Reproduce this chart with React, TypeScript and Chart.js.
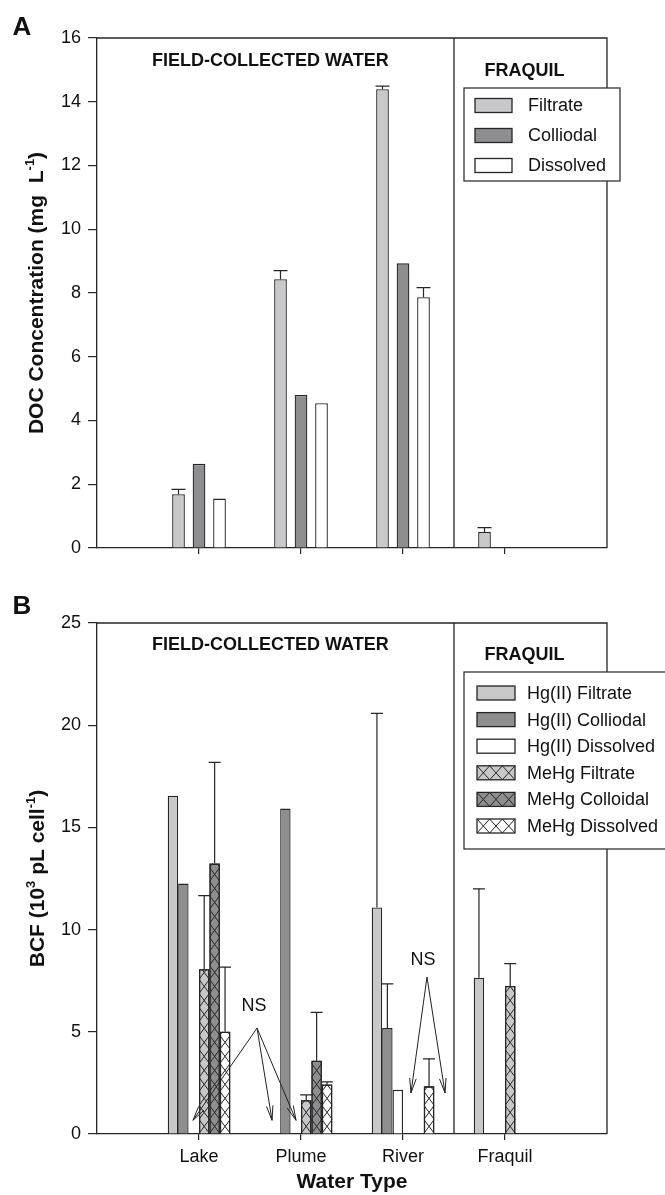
import React, { useEffect, useRef } from 'react';
import { Chart, registerables } from 'chart.js';

Chart.register(...registerables);

// ---------- shared categories ----------
const categories = ['', 'Lake', 'Plume', 'River', 'Fraquil', ''];
const dividerAt = 3.5;
const regionLabels = ['FIELD-COLLECTED WATER', 'FRAQUIL'];
const regionLabelX = [1.7, 4.19];

// ---------- panel A: DOC concentration (mg L-1) ----------
const yTicksA = [0, 2, 4, 6, 8, 10, 12, 14, 16];
const legendA = ['Filtrate', 'Colliodal', 'Dissolved'];
const docFiltrate = [null, 1.69, 8.43, 14.39, 0.5, null];
const docColloidal = [null, 2.64, 4.8, 8.93, null, null];
const docDissolved = [null, 1.55, 4.54, 7.87, null, null];
const docFiltrateErr = [null, 0.15, 0.27, 0.1, 0.14, null];
const docColloidalErr = [null, null, null, null, null, null];
const docDissolvedErr = [null, null, null, 0.3, null, null];

// ---------- panel B: BCF (10^3 pL cell-1) ----------
const yTicksB = [0, 5, 10, 15, 20, 25];
const legendB = ['Hg(II) Filtrate', 'Hg(II) Colliodal', 'Hg(II) Dissolved', 'MeHg Filtrate', 'MeHg Colloidal', 'MeHg Dissolved'];
const hgFiltrate = [null, 16.55, null, 11.08, 7.65, null];
const hgColloidal = [null, 12.25, 15.92, 5.18, null, null];
const hgDissolved = [null, null, null, 2.16, null, null];
const mehgFiltrate = [null, 8.06, 1.65, null, 7.24, null];
const mehgColloidal = [null, 13.23, 3.58, null, null, null];
const mehgDissolved = [null, 5.0, 2.42, 2.33, null, null];
const hgFiltrateErr = [null, null, null, 9.5, 4.34, null];
const hgColloidalErr = [null, null, null, 2.16, null, null];
const hgDissolvedErr = [null, null, null, null, null, null];
const mehgFiltrateErr = [null, 3.6, 0.26, null, 1.1, null];
const mehgColloidalErr = [null, 4.95, 2.37, null, null, null];
const mehgDissolvedErr = [null, 3.16, 0.13, 1.35, null, null];

// NS annotations (category index units, value units)
const nsLabels = ['NS', 'NS'];
const nsText = [[1.539, 6.27], [3.196, 8.53]];
const nsOrigin = [[1.569, 5.18], [3.235, 7.68]];
const nsTargets = [
  [[0.941, 0.67], [1.716, 0.67], [1.951, 0.67]],
  [[3.078, 2.01], [3.412, 2.01]],
];

const FONT = '"Liberation Sans", Arial, Helvetica, sans-serif';
const INK = '#262626';
const LIGHT = '#c8c8ca';
const DARK = '#8e8e91';
const WHITE = '#ffffff';

type Part = { t: string; sup?: boolean };

function hatchV(ctx: CanvasRenderingContext2D, l: number, r: number, t: number, b: number, p: number) {
  ctx.save();
  ctx.beginPath();
  ctx.rect(l, t, r - l, b - t);
  ctx.clip();
  ctx.beginPath();
  for (let yb = b; yb > t - p; yb -= p) {
    ctx.moveTo(l, yb);
    ctx.lineTo(r, yb - p);
    ctx.moveTo(r, yb);
    ctx.lineTo(l, yb - p);
  }
  ctx.strokeStyle = INK;
  ctx.lineWidth = 1;
  ctx.stroke();
  ctx.restore();
}

function hatchH(ctx: CanvasRenderingContext2D, l: number, r: number, t: number, b: number, n: number) {
  const cw = (r - l) / n;
  ctx.save();
  ctx.beginPath();
  ctx.rect(l, t, r - l, b - t);
  ctx.clip();
  ctx.beginPath();
  for (let k = 0; k < n; k++) {
    const x0 = l + k * cw;
    ctx.moveTo(x0, t);
    ctx.lineTo(x0 + cw, b);
    ctx.moveTo(x0 + cw, t);
    ctx.lineTo(x0, b);
  }
  ctx.strokeStyle = INK;
  ctx.lineWidth = 1;
  ctx.stroke();
  ctx.restore();
}

function drawRich(ctx: CanvasRenderingContext2D, parts: Part[], cx: number, cy: number, size: number, rotate: boolean) {
  ctx.save();
  ctx.translate(cx, cy);
  if (rotate) ctx.rotate(-Math.PI / 2);
  const big = `bold ${size}px ${FONT}`;
  const small = `bold ${Math.round(size * 0.62)}px ${FONT}`;
  let total = 0;
  const widths = parts.map((p) => {
    ctx.font = p.sup ? small : big;
    const w = ctx.measureText(p.t).width;
    total += w;
    return w;
  });
  let x = -total / 2;
  ctx.fillStyle = '#111';
  ctx.textBaseline = 'alphabetic';
  ctx.textAlign = 'left';
  const base = size * 0.36;
  parts.forEach((p, i) => {
    ctx.font = p.sup ? small : big;
    ctx.fillText(p.t, x, p.sup ? base - size * 0.42 : base);
    x += widths[i];
  });
  ctx.restore();
}

function arrow(ctx: CanvasRenderingContext2D, x0: number, y0: number, x1: number, y1: number) {
  ctx.beginPath();
  ctx.moveTo(x0, y0);
  ctx.lineTo(x1, y1);
  const a = Math.atan2(y1 - y0, x1 - x0);
  const len = 15;
  const sp = 0.22;
  ctx.moveTo(x1, y1);
  ctx.lineTo(x1 - len * Math.cos(a - sp), y1 - len * Math.sin(a - sp));
  ctx.moveTo(x1, y1);
  ctx.lineTo(x1 - len * Math.cos(a + sp), y1 - len * Math.sin(a + sp));
  ctx.stroke();
}

type DS = { label: string; data: (number | null)[]; err: (number | null)[]; color: string; hatch: boolean };
type Panel = {
  width: number;
  height: number;
  padTop: number;
  xAxisH: number;
  yMin: number;
  yMax: number;
  yTicks: number[];
  showX: boolean;
  datasets: DS[];
  cp: number;
  bp: number;
  capW: number;
  legend: { left: number; right: number; top: number; bottom: number; firstY: number; step: number; swX: number; swW: number; swH: number; textX: number };
  yTitle: Part[];
  yTitleX: number;
  letter: string;
  letterY: number;
  fieldDy: number;
  fraqDy: number;
  ns: boolean;
  xTitle?: string;
  xTitleY?: number;
};

function makeChart(canvas: HTMLCanvasElement, cfg: Panel) {
  const decor = {
    id: 'decor',
    beforeDraw(chart: any) {
      const ctx = chart.ctx;
      ctx.save();
      ctx.fillStyle = '#fff';
      ctx.fillRect(0, 0, chart.width, chart.height);
      ctx.restore();
    },
    afterDatasetsDraw(chart: any) {
      const ctx: CanvasRenderingContext2D = chart.ctx;
      const xs = chart.scales.x;
      const ys = chart.scales.y;
      const area = chart.chartArea;
      ctx.save();
      // hatch + error bars
      cfg.datasets.forEach((d, di) => {
        const meta = chart.getDatasetMeta(di);
        meta.data.forEach((el: any, i: number) => {
          const v = d.data[i];
          if (v == null) return;
          const p = el.getProps(['x', 'y', 'base', 'width'], true);
          const l = p.x - p.width / 2;
          const r = p.x + p.width / 2;
          if (d.hatch) {
            hatchV(ctx, l, r, p.y, p.base, 14);
            ctx.strokeStyle = INK;
            ctx.lineWidth = 1.3;
            ctx.beginPath();
            ctx.moveTo(l + 0.65, p.base);
            ctx.lineTo(l + 0.65, p.y + 0.65);
            ctx.lineTo(r - 0.65, p.y + 0.65);
            ctx.lineTo(r - 0.65, p.base);
            ctx.stroke();
          }
          const e = d.err[i];
          if (e != null && e > 0) {
            const yt = ys.getPixelForValue(v + e);
            ctx.strokeStyle = INK;
            ctx.lineWidth = 1.2;
            ctx.beginPath();
            ctx.moveTo(p.x, p.y);
            ctx.lineTo(p.x, yt);
            ctx.moveTo(p.x - cfg.capW / 2, yt);
            ctx.lineTo(p.x + cfg.capW / 2, yt);
            ctx.stroke();
          }
        });
      });
      // frame top/right + divider
      ctx.strokeStyle = INK;
      ctx.lineWidth = 1.3;
      ctx.beginPath();
      ctx.moveTo(area.left, area.top);
      ctx.lineTo(area.right, area.top);
      ctx.lineTo(area.right, area.bottom);
      const dx = xs.getPixelForValue(dividerAt);
      ctx.moveTo(dx, area.top);
      ctx.lineTo(dx, area.bottom);
      ctx.stroke();
      // region labels
      ctx.fillStyle = '#111';
      ctx.font = `bold 18px ${FONT}`;
      ctx.textAlign = 'center';
      ctx.textBaseline = 'middle';
      ctx.fillText(regionLabels[0], xs.getPixelForValue(regionLabelX[0]), area.top + cfg.fieldDy);
      ctx.fillText(regionLabels[1], xs.getPixelForValue(regionLabelX[1]), area.top + cfg.fraqDy);
      // legend
      const L = cfg.legend;
      ctx.fillStyle = '#fff';
      ctx.fillRect(L.left, L.top, L.right - L.left, L.bottom - L.top);
      ctx.strokeStyle = '#333';
      ctx.lineWidth = 1.3;
      ctx.strokeRect(L.left, L.top, L.right - L.left, L.bottom - L.top);
      cfg.datasets.forEach((d, i) => {
        const cy = L.firstY + i * L.step;
        const t = cy - L.swH / 2;
        ctx.fillStyle = d.color;
        ctx.fillRect(L.swX, t, L.swW, L.swH);
        if (d.hatch) hatchH(ctx, L.swX, L.swX + L.swW, t, t + L.swH, 3);
        ctx.strokeStyle = INK;
        ctx.lineWidth = 1.3;
        ctx.strokeRect(L.swX, t, L.swW, L.swH);
        ctx.fillStyle = '#111';
        ctx.font = `18px ${FONT}`;
        ctx.textAlign = 'left';
        ctx.textBaseline = 'middle';
        ctx.fillText(d.label, L.textX, cy + 1);
      });
      // NS annotations
      if (cfg.ns) {
        ctx.strokeStyle = '#222';
        ctx.lineWidth = 1;
        nsLabels.forEach((lab, k) => {
          ctx.fillStyle = '#111';
          ctx.font = `18px ${FONT}`;
          ctx.textAlign = 'center';
          ctx.textBaseline = 'middle';
          ctx.fillText(lab, xs.getPixelForValue(nsText[k][0]), ys.getPixelForValue(nsText[k][1]));
          const ox = xs.getPixelForValue(nsOrigin[k][0]);
          const oy = ys.getPixelForValue(nsOrigin[k][1]);
          nsTargets[k].forEach((tg) => {
            arrow(ctx, ox, oy, xs.getPixelForValue(tg[0]), ys.getPixelForValue(tg[1]));
          });
        });
      }
      // titles
      drawRich(ctx, cfg.yTitle, cfg.yTitleX, (area.top + area.bottom) / 2, 21, true);
      if (cfg.xTitle) {
        drawRich(ctx, [{ t: cfg.xTitle }], (area.left + area.right) / 2, cfg.xTitleY as number, 21, false);
      }
      ctx.fillStyle = '#111';
      ctx.font = `bold 26px ${FONT}`;
      ctx.textAlign = 'center';
      ctx.textBaseline = 'middle';
      ctx.fillText(cfg.letter, 22, cfg.letterY);
      ctx.restore();
    },
  };

  return new Chart(canvas, {
    type: 'bar',
    data: {
      labels: categories,
      datasets: cfg.datasets.map((d) => ({
        label: d.label,
        data: d.data,
        backgroundColor: d.color,
        borderColor: INK,
        borderWidth: 1.3,
        categoryPercentage: cfg.cp,
        barPercentage: cfg.bp,
      })),
    },
    options: {
      responsive: false,
      animation: false,
      devicePixelRatio: 1,
      layout: { padding: { top: cfg.padTop, right: 58, left: 0, bottom: 0 } },
      plugins: { legend: { display: false }, tooltip: { enabled: false } },
      scales: {
        x: {
          type: 'category',
          offset: false,
          grid: {
            offset: false,
            display: true,
            drawOnChartArea: false,
            drawTicks: true,
            tickLength: 6,
            lineWidth: 1.2,
            color: (c: any) => (c.index === 0 || c.index === categories.length - 1 ? 'rgba(0,0,0,0)' : INK),
          },
          border: { display: true, color: INK, width: 1.3 },
          ticks: {
            display: cfg.showX,
            autoSkip: false,
            maxRotation: 0,
            padding: 6,
            color: '#111',
            font: { family: FONT, size: 18 },
          },
          afterFit: (s: any) => {
            s.height = cfg.xAxisH;
          },
        },
        y: {
          min: cfg.yMin,
          max: cfg.yMax,
          afterBuildTicks: (s: any) => {
            s.ticks = cfg.yTicks.map((v) => ({ value: v }));
          },
          grid: { drawOnChartArea: false, drawTicks: true, tickLength: 9, lineWidth: 1.2, color: INK },
          border: { display: true, color: INK, width: 1.3 },
          ticks: { padding: 7, color: '#111', font: { family: FONT, size: 18 } },
          afterFit: (s: any) => {
            s.width = 97;
          },
        },
      },
    } as any,
    plugins: [decor],
  });
}

const panelA: Panel = {
  width: 665,
  height: 580,
  padTop: 38,
  xAxisH: 32,
  yMin: 0,
  yMax: 16,
  yTicks: yTicksA,
  showX: false,
  datasets: [
    { label: legendA[0], data: docFiltrate, err: docFiltrateErr, color: LIGHT, hatch: false },
    { label: legendA[1], data: docColloidal, err: docColloidalErr, color: DARK, hatch: false },
    { label: legendA[2], data: docDissolved, err: docDissolvedErr, color: WHITE, hatch: false },
  ],
  cp: 0.603,
  bp: 0.62,
  capW: 14,
  legend: { left: 464, right: 620, top: 88, bottom: 181, firstY: 105.5, step: 30, swX: 475, swW: 37, swH: 14, textX: 528 },
  yTitle: [{ t: 'DOC Concentration (mg  L' }, { t: '-1', sup: true }, { t: ')' }],
  yTitleX: 35,
  letter: 'A',
  letterY: 28,
  fieldDy: 23,
  fraqDy: 33,
  ns: false,
};

const panelB: Panel = {
  width: 665,
  height: 615,
  padTop: 43,
  xAxisH: 61,
  yMin: 0,
  yMax: 25,
  yTicks: yTicksB,
  showX: true,
  datasets: [
    { label: legendB[0], data: hgFiltrate, err: hgFiltrateErr, color: LIGHT, hatch: false },
    { label: legendB[1], data: hgColloidal, err: hgColloidalErr, color: DARK, hatch: false },
    { label: legendB[2], data: hgDissolved, err: hgDissolvedErr, color: WHITE, hatch: false },
    { label: legendB[3], data: mehgFiltrate, err: mehgFiltrateErr, color: LIGHT, hatch: true },
    { label: legendB[4], data: mehgColloidal, err: mehgColloidalErr, color: DARK, hatch: true },
    { label: legendB[5], data: mehgDissolved, err: mehgDissolvedErr, color: WHITE, hatch: true },
  ],
  cp: 0.613,
  bp: 1.0,
  capW: 12,
  legend: { left: 464, right: 685, top: 92, bottom: 269, firstY: 113, step: 26.6, swX: 477, swW: 38, swH: 14, textX: 527 },
  yTitle: [{ t: 'BCF (10' }, { t: '3', sup: true }, { t: ' pL cell' }, { t: '-1', sup: true }, { t: ')' }],
  yTitleX: 36,
  letter: 'B',
  letterY: 27,
  fieldDy: 22,
  fraqDy: 32,
  ns: true,
  xTitle: 'Water Type',
  xTitleY: 600,
};

export default function App() {
  const refA = useRef<HTMLCanvasElement | null>(null);
  const refB = useRef<HTMLCanvasElement | null>(null);
  useEffect(() => {
    document.body.style.margin = '0';
    const a = makeChart(refA.current as HTMLCanvasElement, panelA);
    const b = makeChart(refB.current as HTMLCanvasElement, panelB);
    return () => {
      a.destroy();
      b.destroy();
    };
  }, []);
  return (
    <div style={{ width: 665, height: 1195, position: 'relative', background: '#fff', overflow: 'hidden' }}>
      <canvas ref={refA} width={panelA.width} height={panelA.height} style={{ position: 'absolute', left: 0, top: 0, width: panelA.width, height: panelA.height }} />
      <canvas ref={refB} width={panelB.width} height={panelB.height} style={{ position: 'absolute', left: 0, top: 580, width: panelB.width, height: panelB.height }} />
    </div>
  );
}
